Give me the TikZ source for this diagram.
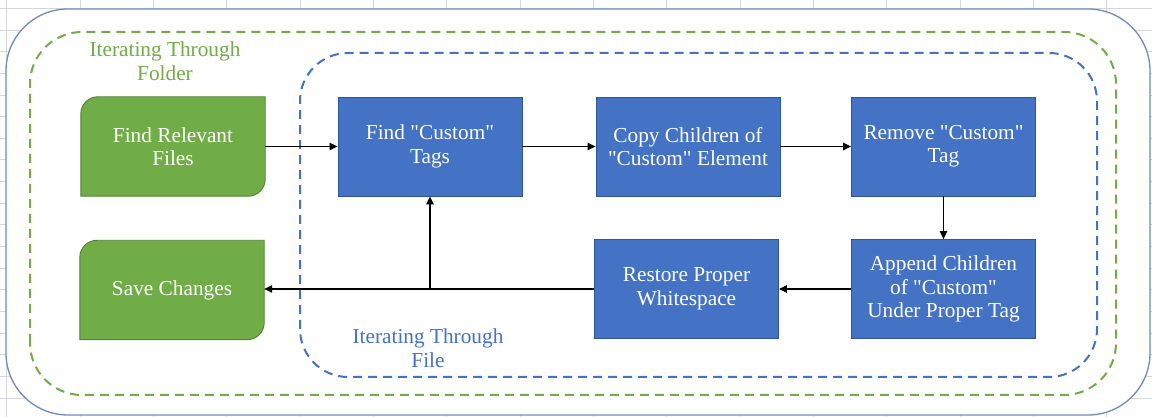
\documentclass[tikz,border=0pt]{standalone}
\usepackage{fontspec}
\setmainfont{Liberation Serif}
\usetikzlibrary{arrows.meta,calc}

% straight double quote, taken directly from the font
\newcommand\qm{\XeTeXglyph\XeTeXglyphindex "quotedbl" }

\definecolor{leafgreen}{HTML}{70AD47}
\definecolor{leafedge}{HTML}{548235}
\definecolor{stepblue}{HTML}{4472C4}
\definecolor{stepedge}{HTML}{2F5597}
\definecolor{outerline}{HTML}{6F8BC0}
\definecolor{cellline}{HTML}{D6D6D6}

\pgfdeclarelayer{sheet}
\pgfdeclarelayer{shapes}
\pgfsetlayers{sheet,shapes,main}

% outline of a box with rounded top-left and bottom-right corners
\newcommand\leafshape[1]{%
  \draw[leafbox] (#1.south west) -- ([yshift=-17pt]#1.north west)
    arc[start angle=180,end angle=90,radius=17pt] -- (#1.north east)
    -- ([yshift=17pt]#1.south east)
    arc[start angle=0,end angle=-90,radius=17pt] -- cycle;}

\begin{document}
\begin{tikzpicture}[x=1pt,y=1pt,
  boxfont/.style={font=\fontsize{21.3}{23.5}\selectfont},
  cell/.style={draw=cellline,line width=0.8pt},
  outerframe/.style={draw=outerline,line width=1.3pt,fill=white,rounded corners=62pt},
  loopframe/.style={line width=2pt,dash pattern=on 9pt off 6pt,rounded corners=#1},
  leafbox/.style={fill=leafgreen,draw=leafedge,line width=0.9pt},
  leaftext/.style={boxfont,text=white,align=center,minimum width=184pt,minimum height=99pt,inner sep=0pt},
  stepbox/.style={boxfont,text=white,align=center,fill=stepblue,draw=stepedge,line width=0.9pt,minimum width=184pt,minimum height=99pt,inner sep=0pt},
  looplabel/.style={boxfont,align=center},
  arr/.style={draw=black,line width=1.1pt,-{Triangle[length=8pt,width=7.5pt]}}
]
\useasboundingbox (0,0) rectangle (1152,417);

\begin{pgfonlayer}{sheet}
  % spreadsheet cells behind the drawing
  \fill[white] (0,0) rectangle (1152,417);
  \foreach \i in {0,...,15}
    \draw[cell] ({6.67+73.33*\i},0) -- ++(0,417);
  \foreach \j in {0,...,18}
    \draw[cell] (0,{417-8.35-21.65*\j}) -- ++(1152,0);
  % outer panel and the two loop frames
  \path[outerframe] (6,2) rectangle (1150,408);
  \draw[loopframe=52pt,draw=leafgreen] (30,22) rectangle (1116,385);
  \draw[loopframe=48pt,draw=stepblue] (300,40) rectangle (1097,364);
\end{pgfonlayer}

% loop labels
\node[looplabel,text=leafgreen] (folderlbl) at (165,356) {Iterating Through\\Folder};
\node[looplabel,text=stepblue] (filelbl) at (428,69) {Iterating Through\\File};

% green start / end boxes
\node[leaftext] (rel) at (173,270.5) {Find Relevant\\Files};
\node[leaftext] (save) at (172,127) {Save Changes};
\begin{pgfonlayer}{shapes}
  \leafshape{rel}
  \leafshape{save}
\end{pgfonlayer}

% blue processing steps
\node[stepbox] (find) at (430,270.5) {Find \qm Custom\qm\\Tags};
\node[stepbox] (copy) at (688,270.5) {Copy Children of\\\qm Custom\qm{} Element};
\node[stepbox] (remove) at (943.5,270.5) {Remove \qm Custom\qm\\Tag};
\node[stepbox] (append) at (943.5,128) {Append Children\\of \qm Custom\qm\\Under Proper Tag};
\node[stepbox] (restore) at (686.5,128) {Restore Proper\\Whitespace};

% connectors
\draw[arr] (rel.east) -- (find.west);
\draw[arr] (find.east) -- (copy.west);
\draw[arr] (copy.east) -- (remove.west);
\draw[arr] (remove.south) -- (append.north);
\draw[arr] (append.west) -- (restore.east);
\coordinate (split) at (find.south |- restore.west);
\draw[arr] (restore.west) -- (split) -- (save.east |- restore.west);
\draw[arr] (split) -- (find.south);
\end{tikzpicture}
\end{document}
